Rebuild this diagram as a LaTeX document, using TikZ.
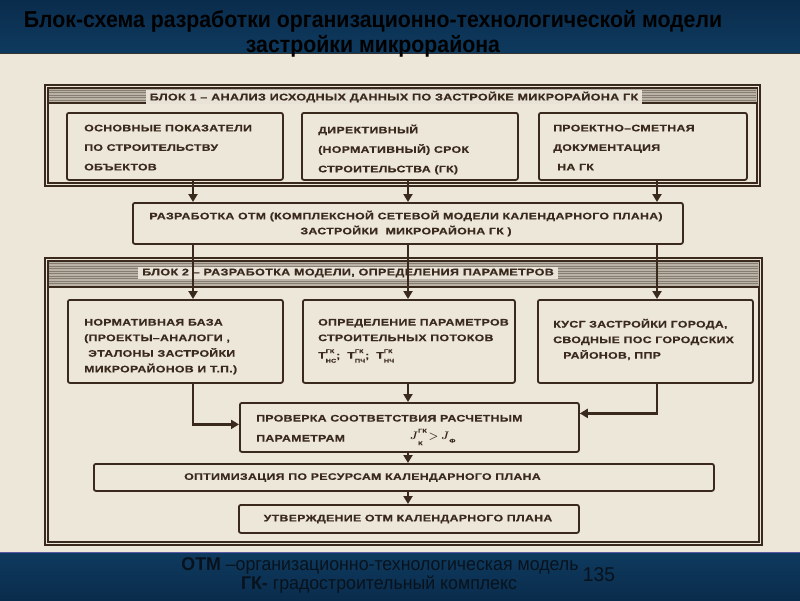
\documentclass[tikz,border=0pt]{standalone}
\usepackage{fontspec}
\usetikzlibrary{arrows.meta,calc}
\newfontfamily\dgfont[FakeStretch=1.3,LetterSpace=3,FakeBold=0.4]{Liberation Sans}
\newfontfamily\ttlfont[FakeStretch=0.925]{Liberation Sans}
\newfontfamily\ftfont[FakeStretch=0.96]{Liberation Sans}
\definecolor{hdr}{HTML}{0E3A5F}
\definecolor{hdrtop}{HTML}{0A2C4C}
\definecolor{bgc}{HTML}{EDE7DA}
\definecolor{ink}{HTML}{3A291D}
\definecolor{band}{HTML}{BAB2A5}
\definecolor{bandln}{HTML}{857D72}
\definecolor{lblbg}{HTML}{E9E3D7}
\definecolor{foot}{HTML}{08121C}
\newcommand{\scr}[1]{{\dgfont\bfseries\fontsize{5.5}{6}\selectfont #1}}
\newcommand{\tsym}[2]{Т\rlap{\raisebox{5.6pt}{\scr{ГК}}}\raisebox{-4pt}{\scr{#1}}#2}
\tikzset{
  box/.style={draw=ink, line width=1.8pt, rounded corners=2pt, anchor=north west, inner sep=0pt},
  dtext/.style={font=\dgfont\bfseries\fontsize{9.5}{19.5}\selectfont, text=ink, inner sep=0pt, align=left, anchor=north west},
  dtextb/.style={dtext, font=\dgfont\bfseries\fontsize{9.5}{15.6}\selectfont},
  ctext/.style={font=\dgfont\bfseries\fontsize{9.5}{15}\selectfont, text=ink, inner sep=0pt, align=center},
  lbl/.style={fill=lblbg, inner xsep=4pt, inner ysep=2pt, font=\dgfont\bfseries\fontsize{9.7}{10}\selectfont, text=ink},
  arr/.style={draw=ink, line width=2.4pt, -{Triangle[length=8pt,width=9pt]}},
  frameln/.style={draw=ink, line width=1.1pt},
}
\begin{document}
\begin{tikzpicture}[x=1pt,y=-1pt]
\useasboundingbox (0,0) rectangle (800,600);
% backgrounds
\fill[bgc] (0,0) rectangle (800,600);
\shade[top color=hdrtop, bottom color=hdr] (0,0) rectangle (800,53);
\draw[black!80, line width=1pt] (0,53) -- (800,53);
\shade[top color=hdr, bottom color=hdrtop] (0,552) rectangle (800,600);
\draw[blue!30!gray, line width=0.8pt] (0,552) -- (800,552);
% title
\node[font=\ttlfont\bfseries\fontsize{23}{25}\selectfont, text=black, align=center] (title) at (373,34)
  {Блок-схема разработки организационно-технологической модели\\застройки микрорайона};
% footer
\node[font=\ftfont\fontsize{18.5}{19}\selectfont, text=foot, inner sep=0pt] (fl1) at (380,566)
  {\textbf{ОТМ} –организационно-технологическая модель};
\node[font=\ftfont\fontsize{18.5}{19}\selectfont, text=foot, inner sep=0pt] (fl2) at (379,585)
  {\textbf{ГК-} градостроительный комплекс};
\node[font=\ftfont\fontsize{20}{22}\selectfont, text=foot, inner sep=0pt] (pg) at (599,575) {135};

% Block 1 frame
\draw[frameln] (45,85) rectangle (760,186);
\draw[frameln] (48,88) rectangle (757,183);
\fill[band] (48.5,88.5) rectangle (756.5,103);
\foreach \yy in {90,92.5,...,102} {\draw[bandln, line width=0.6pt] (49,\yy) -- (756,\yy);}
\draw[frameln] (48,103) -- (757,103);
\node[lbl] (lbl1) at (394,97)
  {БЛОК 1 – АНАЛИЗ ИСХОДНЫХ ДАННЫХ ПО ЗАСТРОЙКЕ МИКРОРАЙОНА ГК};

% Block 2 frame
\draw[frameln] (45,258) rectangle (762,545);
\draw[frameln] (48,261) rectangle (759,542);
\fill[band] (48.5,261.5) rectangle (758.5,287);
\foreach \yy in {263.5,266,...,286} {\draw[bandln, line width=0.6pt] (49,\yy) -- (758,\yy);}
\draw[frameln] (48,287) -- (759,287);
\node[lbl] (lbl2) at (348,273)
  {БЛОК 2 – РАЗРАБОТКА МОДЕЛИ, ОПРЕДЕЛЕНИЯ ПАРАМЕТРОВ};

% boxes
\node[box, minimum width=216pt, minimum height=67pt] (A) at (66,112) {};
\node[box, minimum width=216pt, minimum height=67pt] (B) at (301,112) {};
\node[box, minimum width=208pt, minimum height=67pt] (C) at (538,112) {};
\node[box, minimum width=550pt, minimum height=41pt] (OTM) at (132,202) {};
\node[box, minimum width=215pt, minimum height=83pt] (D) at (67,299) {};
\node[box, minimum width=212pt, minimum height=83pt] (E) at (302,299) {};
\node[box, minimum width=215pt, minimum height=83pt] (F) at (537,299) {};
\node[box, minimum width=339pt, minimum height=49pt] (CHK) at (239,402) {};
\node[box, minimum width=620pt, minimum height=27pt] (OPT) at (93,463) {};
\node[box, minimum width=340pt, minimum height=28pt] (APR) at (238,504) {};

% texts
\node[dtext] (tA) at (84,124.5) {ОСНОВНЫЕ ПОКАЗАТЕЛИ\\ПО СТРОИТЕЛЬСТВУ\\ОБЪЕКТОВ};
\node[dtext] (tB) at (318,124.5) {ДИРЕКТИВНЫЙ\\(НОРМАТИВНЫЙ) СРОК\\СТРОИТЕЛЬСТВА (ГК)};
\node[dtext] (tC) at (553,124.5) {ПРОЕКТНО–СМЕТНАЯ\\ДОКУМЕНТАЦИЯ\\\hspace*{4pt}НА ГК};
\node[ctext] (tOTM) at (406,223.5) {РАЗРАБОТКА ОТМ (КОМПЛЕКСНОЙ СЕТЕВОЙ МОДЕЛИ КАЛЕНДАРНОГО ПЛАНА)\\ЗАСТРОЙКИ \ МИКРОРАЙОНА ГК )};
\node[dtextb] (tD) at (84,318.7) {НОРМАТИВНАЯ БАЗА\\(ПРОЕКТЫ–АНАЛОГИ ,\\\hspace*{4pt}ЭТАЛОНЫ ЗАСТРОЙКИ\\МИКРОРАЙОНОВ И Т.П.)};
\node[dtextb] (tE) at (318,318.7) {ОПРЕДЕЛЕНИЕ ПАРАМЕТРОВ\\СТРОИТЕЛЬНЫХ ПОТОКОВ};
\node[dtextb, anchor=west] (tEf) at (318,356)
  {\tsym{НС}{;}\hspace{7pt}\tsym{ПЧ}{;}\hspace{7pt}\tsym{НЧ}{}};
\node[dtextb] (tF) at (553,318.7) {КУСГ ЗАСТРОЙКИ ГОРОДА,\\СВОДНЫЕ ПОС ГОРОДСКИХ\\\hspace*{10pt}РАЙОНОВ, ППР};
\node[dtext, font=\dgfont\bfseries\fontsize{9.5}{20}\selectfont] (tCHK) at (256,414.7) {ПРОВЕРКА СООТВЕТСТВИЯ РАСЧЕТНЫМ\\ПАРАМЕТРАМ};
\node[text=ink, inner sep=0pt, anchor=west, font=\fontsize{11}{12}\selectfont\boldmath] (tJ) at (410,437)
  {$J$\rlap{\raisebox{7pt}{\scr{ГК}}}\raisebox{-5.5pt}{\scr{К}}\hspace{6pt}$>$\hspace{3pt}$J$\raisebox{-3pt}{\scr{Ф}}};
\node[ctext, anchor=west] (tOPT) at (184,477.5) {ОПТИМИЗАЦИЯ ПО РЕСУРСАМ КАЛЕНДАРНОГО ПЛАНА};
\node[ctext] (tAPR) at (408,519) {УТВЕРЖДЕНИЕ ОТМ КАЛЕНДАРНОГО ПЛАНА};

% connectors
\coordinate (X1) at (193,0);
\coordinate (X2) at (408,0);
\coordinate (X3) at (657,0);
\draw[arr] (A.south -| X1) -- (OTM.north -| X1);
\draw[arr] (B.south -| X2) -- (OTM.north -| X2);
\draw[arr] (C.south -| X3) -- (OTM.north -| X3);
\draw[arr] (OTM.south -| X1) -- (D.north -| X1);
\draw[arr] (OTM.south -| X2) -- (E.north -| X2);
\draw[arr] (OTM.south -| X3) -- (F.north -| X3);
\draw[arr] (D.south -| X1) |- ([yshift=3pt]CHK.west);
\draw[arr] (E.south -| X2) -- (CHK.north -| X2);
\draw[arr] (F.south -| X3) |- ([yshift=14pt]CHK.east);
\draw[arr] (CHK.south -| X2) -- (OPT.north -| X2);
\draw[arr] (OPT.south -| X2) -- (APR.north -| X2);
\end{tikzpicture}
\end{document}
